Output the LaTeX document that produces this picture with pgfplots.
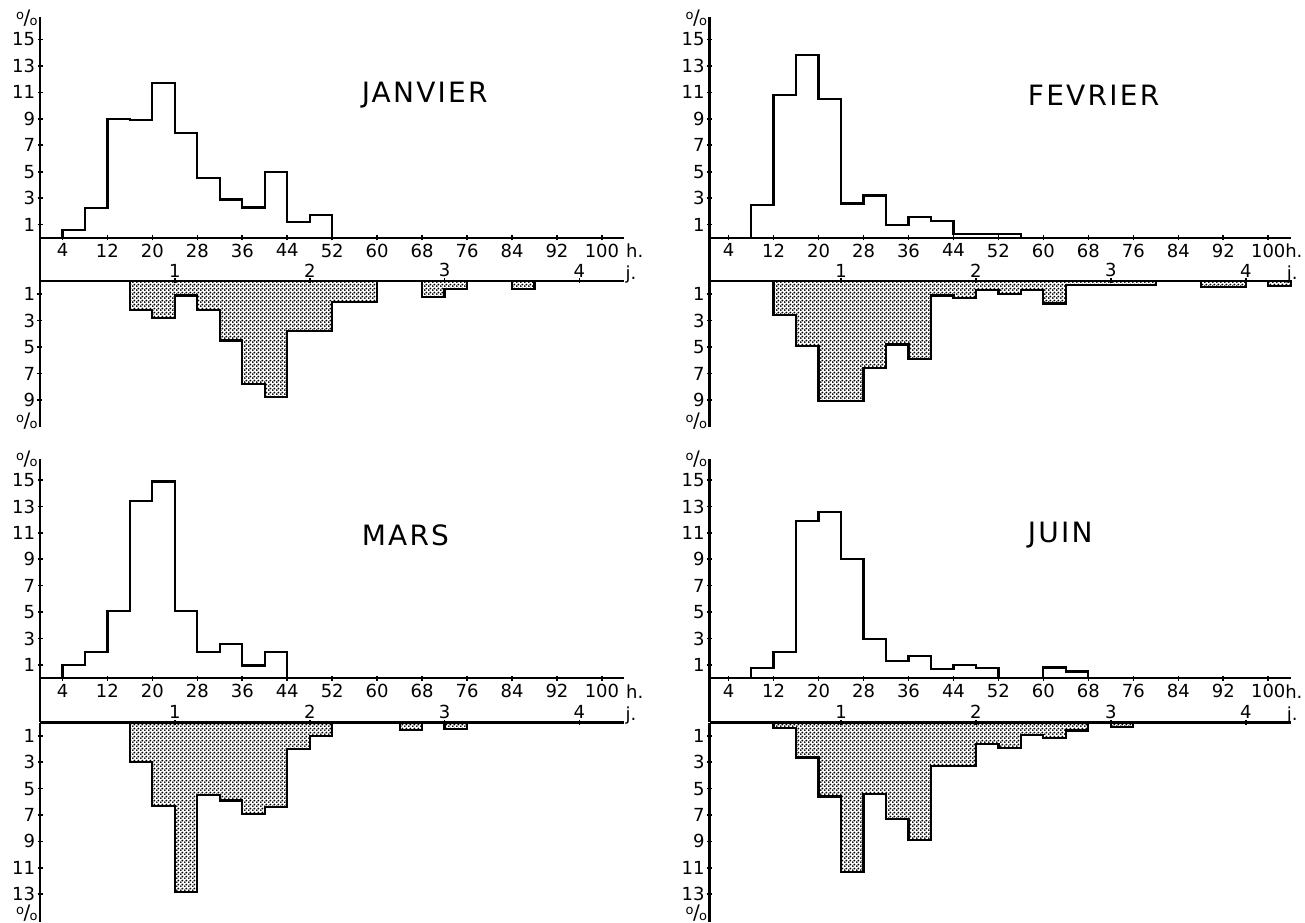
\documentclass[border=0pt]{standalone}
\usepackage{pgfplots}
\pgfplotsset{compat=1.18}
\usepackage{fontspec}
\setmainfont{DejaVu Sans}
\usetikzlibrary{patterns}

\pgfdeclarepatternformonly{fdots}{\pgfqpoint{0pt}{0pt}}{\pgfqpoint{2pt}{2pt}}{\pgfqpoint{2pt}{2pt}}{%
  \pgfpathcircle{\pgfqpoint{0.5pt}{0.5pt}}{0.62pt}%
  \pgfpathcircle{\pgfqpoint{1.5pt}{1.5pt}}{0.62pt}%
  \pgfusepath{fill}%
}

\newcommand{\pc}{{\raisebox{0.45ex}{\fontsize{6.5}{6.5}\selectfont o}\kern-0.3pt/\kern-0.3pt\raisebox{-0.1ex}{\fontsize{6.5}{6.5}\selectfont o}}}

\tikzset{
  ttl/.style={anchor=west, font=\fontsize{14}{14}\selectfont\addfontfeature{LetterSpace=8}},
  unit/.style={inner sep=1pt, font=\fontsize{9}{9}\selectfont},
}

\pgfplotsset{
  noarrows/.style={
    axis line style={-, line width=1.3pt},
    every outer x axis line/.append style={-},
    every inner x axis line/.append style={-},
    every outer y axis line/.append style={-},
    every inner y axis line/.append style={-},
  },
  common/.style={
    scale only axis, anchor=north west, xmax=104,
    tick align=outside, major tick length=2.5pt,
    tick style={black, line width=0.8pt},
    tick label style={font=\fontsize{9}{9}\selectfont, /pgf/number format/assume math mode=true},
    yticklabel style={inner sep=1pt},
    clip=false,
  },
  upper/.style={
    common, axis y line=left, axis x line=middle, noarrows,
    xtick={4,12,...,100}, ytick={1,3,...,15},
    xticklabel style={inner sep=1.5pt},
  },
  lower/.style={
    common, ymin=0, y dir=reverse, axis y line=left, axis x line=top, noarrows,
    xtick={24,48,72,96}, xticklabels={1,2,3,4},
    xticklabel style={inner sep=0.5pt},
  },
  hist/.style={const plot mark right, no marks, draw=black, line width=1.1pt},
  shaded/.style={const plot mark right, no marks, draw=black, line width=1.1pt, pattern=fdots},
}

\begin{document}
\begin{tikzpicture}
\path[use as bounding box] (0pt,0pt) rectangle (652.5pt,461pt);

% ---------------- JANVIER ----------------
\begin{axis}[upper, at={(20pt,452.5pt)}, width=292.2pt, height=132pt,
  xmin=0, ymin=-3.26, ymax=16.7]
\addplot[hist] coordinates {(4,0) (8,0.6) (12,2.25) (16,9.0) (20,8.9) (24,11.7) (28,7.9) (32,4.5) (36,2.9) (40,2.3) (44,5.0) (48,1.2) (52,1.7) (52,0)};
\node[ttl] at (axis cs:56,10.8) {JANVIER};
\node[anchor=east, inner sep=1pt] at (axis cs:0,16.6) {\pc};
\node[unit, anchor=west] at (axis cs:103.9,-1.0) {h.};
\end{axis}
\begin{axis}[lower, at={(20pt,320.5pt)}, width=292.2pt, height=73pt,
  xmin=0, ymax=11.05, ytick={1,3,5,7,9}]
\addplot[shaded] coordinates {(16,0) (20,2.2) (24,2.8) (28,1.1) (32,2.2) (36,4.5) (40,7.8) (44,8.8) (52,3.8) (60,1.6) (68,0) (72,1.2) (76,0.6) (84,0) (88,0.6) (88,0)} \closedcycle;
\node[anchor=east, inner sep=1pt] at (axis cs:0,10.6) {\pc};
\node[unit, anchor=base west] at (axis cs:103.8,-0.15) {j.};
\end{axis}

% ---------------- FEVRIER ----------------
\begin{axis}[upper, at={(354.75pt,452.5pt)}, width=290.6pt, height=132pt,
  xmin=0.6, ymin=-3.26, ymax=16.7]
\addplot[hist] coordinates {(8,0) (12,2.5) (16,10.8) (20,13.8) (24,10.5) (28,2.6) (32,3.2) (36,1.0) (40,1.6) (44,1.25) (56,0.3) (56,0)};
\node[ttl] at (axis cs:56,10.8) {FEVRIER};
\node[anchor=east, inner sep=1pt] at (axis cs:0.6,16.6) {\pc};
\node[unit, anchor=west] at (axis cs:102.6,-1.0) {h.};
\end{axis}
\begin{axis}[lower, at={(354.75pt,320.5pt)}, width=290.6pt, height=73pt,
  xmin=0.6, ymax=11.05, ytick={1,3,5,7,9}]
\addplot[shaded] coordinates {(12,0) (16,2.6) (20,4.9) (28,9.1) (32,6.6) (36,4.8) (40,5.9) (44,1.1) (48,1.3) (52,0.7) (56,1.0) (60,0.7) (64,1.7) (80,0.3) (88,0) (96,0.45) (100,0) (104,0.35) (104,0)} \closedcycle;
\node[anchor=east, inner sep=1pt] at (axis cs:0.6,10.6) {\pc};
\node[unit, anchor=base west] at (axis cs:102.9,-0.15) {j.};
\end{axis}

% ---------------- MARS ----------------
\begin{axis}[upper, at={(20pt,231.5pt)}, width=292.2pt, height=131.75pt,
  xmin=0, ymin=-3.37, ymax=16.6]
\addplot[hist] coordinates {(4,0) (8,1.0) (12,2.0) (16,5.1) (20,13.4) (24,14.9) (28,5.05) (32,1.95) (36,2.55) (40,0.95) (44,2.0) (44,0)};
\node[ttl] at (axis cs:56,10.8) {MARS};
\node[anchor=east, inner sep=1pt] at (axis cs:0,16.6) {\pc};
\node[unit, anchor=west] at (axis cs:103.9,-1.0) {h.};
\end{axis}
\begin{axis}[lower, at={(20pt,99.75pt)}, width=292.2pt, height=99.75pt,
  xmin=0, ymax=15.1, ytick={1,3,...,13}]
\addplot[shaded] coordinates {(16,0) (20,3.0) (24,6.3) (28,12.8) (32,5.5) (36,5.9) (40,6.9) (44,6.4) (48,2.0) (52,1.0) (64,0) (68,0.55) (72,0) (76,0.5) (76,0)} \closedcycle;
\node[anchor=east, inner sep=1pt] at (axis cs:0,14.45) {\pc};
\node[unit, anchor=base west] at (axis cs:103.8,-0.15) {j.};
\end{axis}

% ---------------- JUIN ----------------
\begin{axis}[upper, at={(354.75pt,231.5pt)}, width=290.6pt, height=131.75pt,
  xmin=0.6, ymin=-3.37, ymax=16.6]
\addplot[hist] coordinates {(8,0) (12,0.75) (16,2.0) (20,11.9) (24,12.6) (28,9.0) (32,2.95) (36,1.3) (40,1.65) (44,0.7) (48,1.0) (52,0.75) (60,0) (64,0.8) (68,0.5) (68,0)};
\node[ttl] at (axis cs:56,10.8) {JUIN};
\node[anchor=east, inner sep=1pt] at (axis cs:0.6,16.6) {\pc};
\node[unit, anchor=west] at (axis cs:102.6,-1.0) {h.};
\end{axis}
\begin{axis}[lower, at={(354.75pt,99.75pt)}, width=290.6pt, height=99.75pt,
  xmin=0.6, ymax=15.1, ytick={1,3,...,13}]
\addplot[shaded] coordinates {(12,0) (16,0.4) (20,2.65) (24,5.6) (28,11.3) (32,5.4) (36,7.3) (40,8.9) (48,3.3) (52,1.65) (56,1.9) (60,0.95) (64,1.2) (68,0.6) (72,0) (76,0.35) (76,0)} \closedcycle;
\node[anchor=east, inner sep=1pt] at (axis cs:0.6,14.45) {\pc};
\node[unit, anchor=base west] at (axis cs:102.9,-0.15) {j.};
\end{axis}
\end{tikzpicture}
\end{document}
